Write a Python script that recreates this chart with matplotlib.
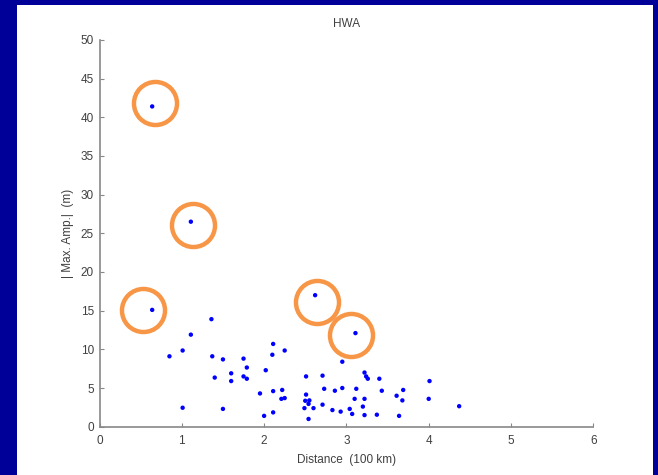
import matplotlib
matplotlib.use("Agg")
import matplotlib.pyplot as plt
from matplotlib.patches import Rectangle

plt.rcParams['font.family'] = ['Liberation Sans', 'DejaVu Sans']

# Data (Distance in 100 km, |Max. Amp.| in m)
distance = [0.64, 1.11, 0.64, 2.62, 3.11,
            1.36, 1.11, 0.85, 1.01, 1.37, 1.50, 1.75, 1.79, 1.60, 1.40, 1.60, 1.75, 1.79,
            1.01, 1.50, 2.02, 2.11, 2.10, 2.25, 1.95, 2.11, 2.22, 2.21, 2.25, 2.00, 2.11,
            2.95, 2.51, 2.71, 3.22, 3.24, 3.26, 3.40, 2.51, 2.73, 2.86, 2.95, 3.12, 3.43,
            3.69, 3.61, 3.68, 2.50, 2.55, 2.49, 2.54, 2.60, 2.71, 2.54, 2.83, 2.93, 3.04,
            3.07, 3.10, 3.20, 3.22, 3.22, 3.37, 3.64, 4.01, 4.00, 4.37]
amplitude = [41.4, 26.5, 15.1, 17.0, 12.1,
             13.9, 11.9, 9.1, 9.85, 9.1, 8.7, 8.8, 7.65, 6.9, 6.35, 5.9, 6.5, 6.2,
             2.45, 2.3, 7.3, 10.7, 9.3, 9.85, 4.3, 4.6, 4.75, 3.6, 3.7, 1.4, 1.85,
             8.4, 6.5, 6.6, 7.0, 6.5, 6.2, 6.2, 4.15, 4.9, 4.65, 5.0, 4.9, 4.65,
             4.75, 4.0, 3.4, 3.35, 3.4, 2.4, 2.95, 2.4, 2.85, 1.0, 2.15, 1.95, 2.3,
             1.65, 3.6, 2.6, 3.6, 1.5, 1.55, 1.4, 5.9, 3.6, 2.65]

# Highlight circles (annotation centres)
circle_x = [0.67, 1.14, 0.53, 2.64, 3.06]
circle_y = [41.9, 26.1, 15.1, 16.1, 11.9]

x_ticks = [0, 1, 2, 3, 4, 5, 6]
y_ticks = [0, 5, 10, 15, 20, 25, 30, 35, 40, 45, 50]

W, H = 658, 475
fig = plt.figure(figsize=(W / 100, H / 100), dpi=100)
fig.patch.set_facecolor("white")
navy = "#000099"
# navy frame: left, right, top strips
for (x0, y0, w, h) in [(0, 0, 16.7, H), (652.7, 0, W - 652.7, H), (0, H - 5, W, 5)]:
    fig.patches.append(Rectangle((x0 / W, y0 / H), w / W, h / H,
                                 transform=fig.transFigure, facecolor=navy,
                                 edgecolor="none", zorder=5))

ax = fig.add_axes([99.5 / W, (H - 426.7) / H, (593.3 - 99.5) / W, (426.7 - 39.9) / H])
ax.set_facecolor("white")
ax.scatter(distance, amplitude, s=10, color="#0000FF", edgecolors="none", zorder=3)
ax.plot(circle_x, circle_y, linestyle="none", marker="o", markersize=31,
        markerfacecolor="none", markeredgecolor="#F79646", markeredgewidth=3.2,
        zorder=4, clip_on=False)

ax.set_xlim(0, 6)
ax.set_ylim(0, 50)
ax.set_xticks(x_ticks)
ax.set_yticks(y_ticks)
ax.spines["top"].set_visible(False)
ax.spines["right"].set_visible(False)
for s in ("left", "bottom"):
    ax.spines[s].set_color("#888888")
    ax.spines[s].set_linewidth(1.2)
ax.tick_params(direction="in", length=3, colors="#888888", labelcolor="#404040",
               labelsize=8.5)
ax.tick_params(axis="x", pad=6)
ax.tick_params(axis="y", pad=4)

ax.set_title("HWA", fontsize=8.5, color="#404040", pad=9)
ax.set_xlabel("Distance  (100 km)", fontsize=8.5, color="#404040", labelpad=5)
ax.set_ylabel("| Max. Amp.|  (m)", fontsize=8.5, color="#404040", labelpad=5)

fig.savefig("out.png", dpi=100, facecolor=fig.get_facecolor())
